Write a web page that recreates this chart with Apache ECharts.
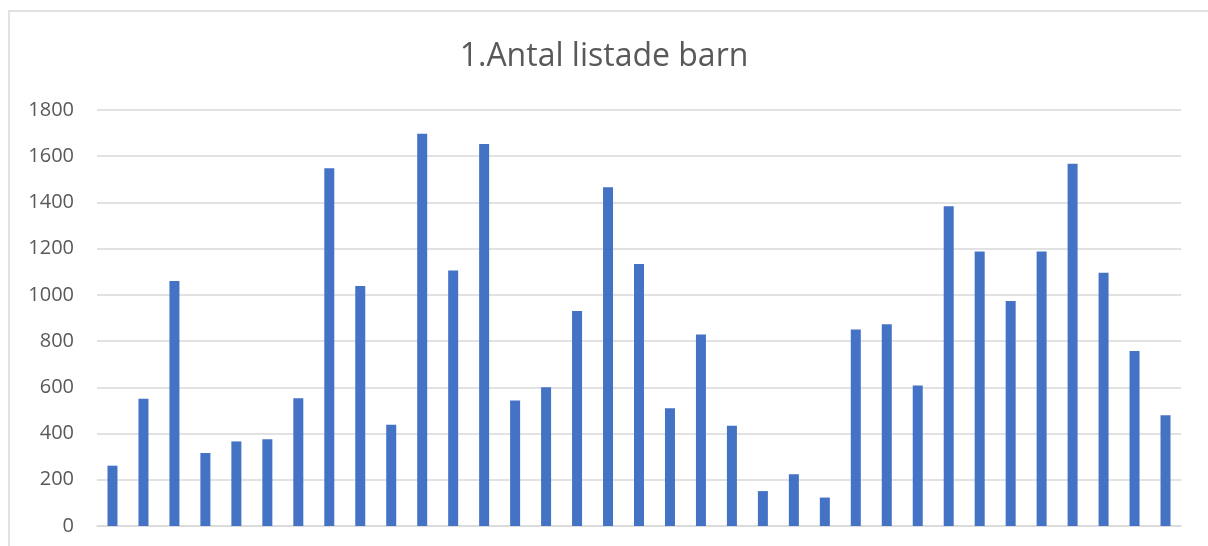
<!DOCTYPE html>
<html>
<head>
<meta charset="utf-8">
<style>
  html, body { margin: 0; padding: 0; background: #fff; }
  #chart { width: 1208px; height: 546px; }
</style>
<script src="https://cdn.jsdelivr.net/npm/echarts@6/dist/echarts.min.js"></script>
</head>
<body>
<div id="chart"></div>
<script>
const categories = ['1', '2', '3', '4', '5', '6', '7', '8', '9', '10', '11', '12', '13', '14', '15', '16', '17', '18',
  '19', '20', '21', '22', '23', '24', '25', '26', '27', '28', '29', '30', '31', '32', '33', '34', '35'];
const values = [261, 551, 1060, 316, 366, 375, 553, 1548, 1038, 438, 1697, 1105, 1653, 543, 600, 930, 1466, 1134,
  509, 829, 434, 151, 224, 123, 850, 873, 608, 1383, 1188, 974, 1188, 1567, 1096, 757, 479];
const yTicks = [0, 1800, 200]; // min, max, step

const myChart = echarts.init(document.getElementById('chart'));

const option = {
  backgroundColor: '#fff',
  animation: false,
  graphic: [
    {
      // chart frame, cut off at right and bottom like the picture
      type: 'rect',
      shape: { x: 9, y: 11, width: 1400, height: 800 },
      style: { fill: 'none', stroke: '#d9d9d9', lineWidth: 1.5 },
      silent: true,
    },
  ],
  title: {
    text: '1.Antal listade barn',
    left: 'center',
    top: 36,
    textStyle: {
      fontFamily: 'Open Sans',
      fontWeight: 'normal',
      fontSize: 32,
      color: '#595959',
    },
  },
  grid: {
    left: 97,
    right: 27,
    top: 110,
    bottom: 20,
  },
  xAxis: {
    type: 'category',
    data: categories,
    axisLine: { lineStyle: { color: '#d9d9d9', width: 1.5 } },
    axisTick: { show: false },
    axisLabel: { show: false },
  },
  yAxis: {
    type: 'value',
    min: yTicks[0],
    max: yTicks[1],
    interval: yTicks[2],
    axisLine: { show: false },
    axisTick: { show: false },
    axisLabel: {
      color: '#595959',
      fontFamily: 'Open Sans',
      fontSize: 20,
      margin: 23,
      formatter: (v) => String(v),
    },
    splitLine: { lineStyle: { color: '#d9d9d9', width: 1.5 } },
  },
  series: [
    {
      type: 'bar',
      barWidth: 10,
      itemStyle: { color: '#4472c4' },
      data: values,
    },
  ],
};

myChart.setOption(option);
</script>
</body>
</html>
